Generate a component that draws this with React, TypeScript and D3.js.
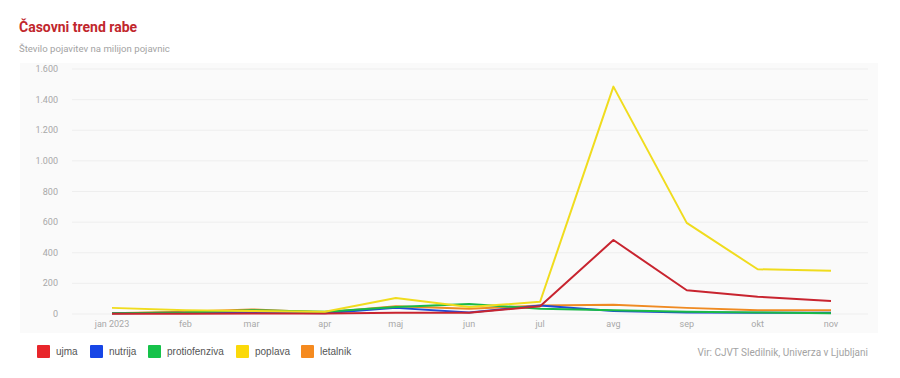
import React from "react";
import * as d3 from "d3";

const months = ["2023-01-01","2023-02-01","2023-03-01","2023-04-01","2023-05-01","2023-06-01","2023-07-01","2023-08-01","2023-09-01","2023-10-01","2023-11-01"];
const monthLabels = ["jan 2023","feb","mar","apr","maj","jun","jul","avg","sep","okt","nov"];
const yTicks = [0, 200, 400, 600, 800, 1000, 1200, 1400, 1600];

const ujma = [2, 2, 3, 3, 8, 8, 50, 483, 155, 113, 85];
const nutrija = [5, 8, 10, 5, 40, 10, 55, 20, 10, 8, 8];
const protiofenziva = [5, 10, 25, 15, 45, 65, 35, 25, 15, 10, 5];
const poplava = [40, 25, 20, 15, 105, 45, 80, 1485, 595, 292, 283];
const letalnik = [5, 15, 30, 10, 50, 35, 55, 60, 40, 25, 25];

const seriesNames = ["ujma", "nutrija", "protiofenziva", "poplava", "letalnik"];
const seriesValues = [ujma, nutrija, protiofenziva, poplava, letalnik];
const legendColors = ["#e8262b", "#1746e6", "#16c24a", "#fbd90a", "#f58a1f"];
const lineColors = ["#c8242f", "#1f49d8", "#19b947", "#f0dc1e", "#ef8a22"];
const drawOrder = [4, 1, 2, 0, 3];

const fmt = (v: number) => v.toLocaleString("de-DE");

export default function App() {
  const W = 900, H = 378;
  const parse = d3.timeParse("%Y-%m-%d");
  const dates = months.map((m) => parse(m) as Date);
  const x = d3.scaleTime().domain([dates[0], dates[dates.length - 1]]).range([112, 831]);
  const y = d3.scaleLinear().domain([0, 1600]).range([314, 69]);
  const line = d3.line<number>().x((_, i) => x(dates[i])).y((d) => y(d));
  const font = "Roboto, 'Noto Sans', Arial, sans-serif";
  const legendX = [37, 90, 148, 236, 301];

  return (
    <svg width={W} height={H} style={{ position: "absolute", left: 0, top: 0, fontFamily: font }}>
      <rect width={W} height={H} fill="#ffffff" />
      <text x={19} y={32} fontSize={14} fontWeight={700} fill="#c1272d">Časovni trend rabe</text>
      <text x={19} y={52} fontSize={9.6} fill="#a3a3a3">Število pojavitev na milijon pojavnic</text>
      <rect x={20} y={63} width={858} height={270} fill="#fafafa" />
      {yTicks.map((t) => (
        <g key={t}>
          <line x1={72} x2={868} y1={y(t)} y2={y(t)} stroke="#eeeeee" strokeWidth={1} />
          <text x={58} y={y(t) + 3} fontSize={9} fill="#a8a8a8" textAnchor="end">{fmt(t)}</text>
        </g>
      ))}
      {dates.map((d, i) => (
        <text key={i} x={x(d)} y={327} fontSize={9} fill="#a8a8a8" textAnchor="middle">{monthLabels[i]}</text>
      ))}
      {drawOrder.map((si) => (
        <path key={si} d={line(seriesValues[si]) || ""} fill="none" stroke={lineColors[si]} strokeWidth={2} strokeLinejoin="round" />
      ))}
      {seriesNames.map((n, k) => (
        <g key={n} transform={`translate(${legendX[k]},345)`}>
          <rect x={0} y={0} width={13} height={13} fill={legendColors[k]} rx={1} />
          <text x={19} y={10} fontSize={10} fill="#555" fontFamily="Arial, 'Liberation Sans', sans-serif">{n}</text>
        </g>
      ))}
      <text x={868} y={356} fontSize={10} fill="#a3a3a3" textAnchor="end">Vir: CJVT Sledilnik, Univerza v Ljubljani</text>
    </svg>
  );
}
